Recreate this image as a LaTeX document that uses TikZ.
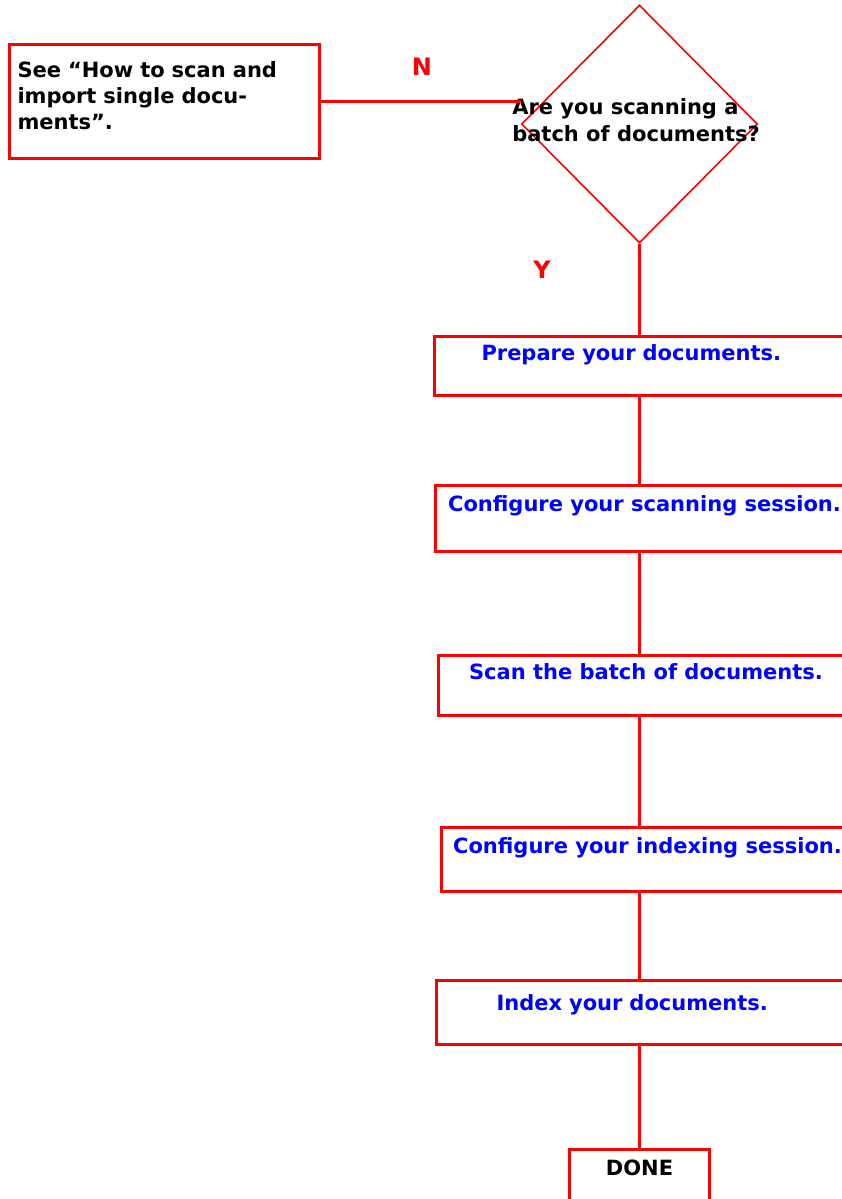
\documentclass[tikz,border=0pt]{standalone}
\usepackage{fontspec}
\setmainfont{DejaVu Sans}
\usetikzlibrary{shapes.geometric}

\begin{document}
\begin{tikzpicture}[x=1pt, y=-1pt,
    box/.style={rectangle, draw=red, line width=3pt, inner sep=0pt, anchor=north west, font=\bfseries\fontsize{21}{26}\selectfont},
    stepbox/.style={box, text=blue},
    decision/.style={diamond, draw=red, line width=1.6pt, minimum width=236pt, minimum height=238pt, inner sep=0pt},
    answer/.style={text=red, font=\bfseries\fontsize{24}{24}\selectfont},
    line/.style={draw, red, line width=2.2pt}]

    \useasboundingbox (0,0) rectangle (842,1199);

    \node [box, text width=294pt, inner xsep=8pt, align=left, text height=33pt, text depth=81pt] (single) at (8,43) {See “How to scan and\\import single docu-\\ments”.};
    \node [decision] (batch) at (639.5,124) {};
    \node [font=\bfseries\fontsize{21}{27}\selectfont, align=left] (batchtext) at (636,120) {Are you scanning a\\batch of documents?};

    \node [stepbox, text width=325pt, inner xsep=47pt, align=left, text height=24pt, text depth=35pt] (prepare) at (433,335) {Prepare your documents.};
    \node [stepbox, minimum width=418pt, text height=26pt, text depth=40pt] (cfgscan) at (434,484) {Configure your scanning session.};
    \node [stepbox, minimum width=415pt, text height=24pt, text depth=36pt] (scan) at (437,654) {Scan the batch of documents.};
    \node [stepbox, minimum width=412pt, text height=26pt, text depth=38pt] (cfgindex) at (440,826) {Configure your indexing session.};
    \node [stepbox, text width=297pt, inner xsep=60pt, align=left, text height=30pt, text depth=34pt] (index) at (435,979) {Index your documents.};
    \node [box, minimum width=140pt, text height=26pt, text depth=50pt] (done) at (568,1148) {DONE};

    \node [answer] (no) at (422,67) {N};
    \node [answer] (yes) at (542,270) {Y};

    \path [line] (single.east) -- (single.east -| batch.west);
    \path [line] (batch.south) -- (batch.south |- prepare.north);
    \path [line] (prepare.south -| batch.south) -- (cfgscan.north -| batch.south);
    \path [line] (cfgscan.south -| batch.south) -- (scan.north -| batch.south);
    \path [line] (scan.south -| batch.south) -- (cfgindex.north -| batch.south);
    \path [line] (cfgindex.south -| batch.south) -- (index.north -| batch.south);
    \path [line] (index.south -| batch.south) -- (done.north -| batch.south);
\end{tikzpicture}
\end{document}
